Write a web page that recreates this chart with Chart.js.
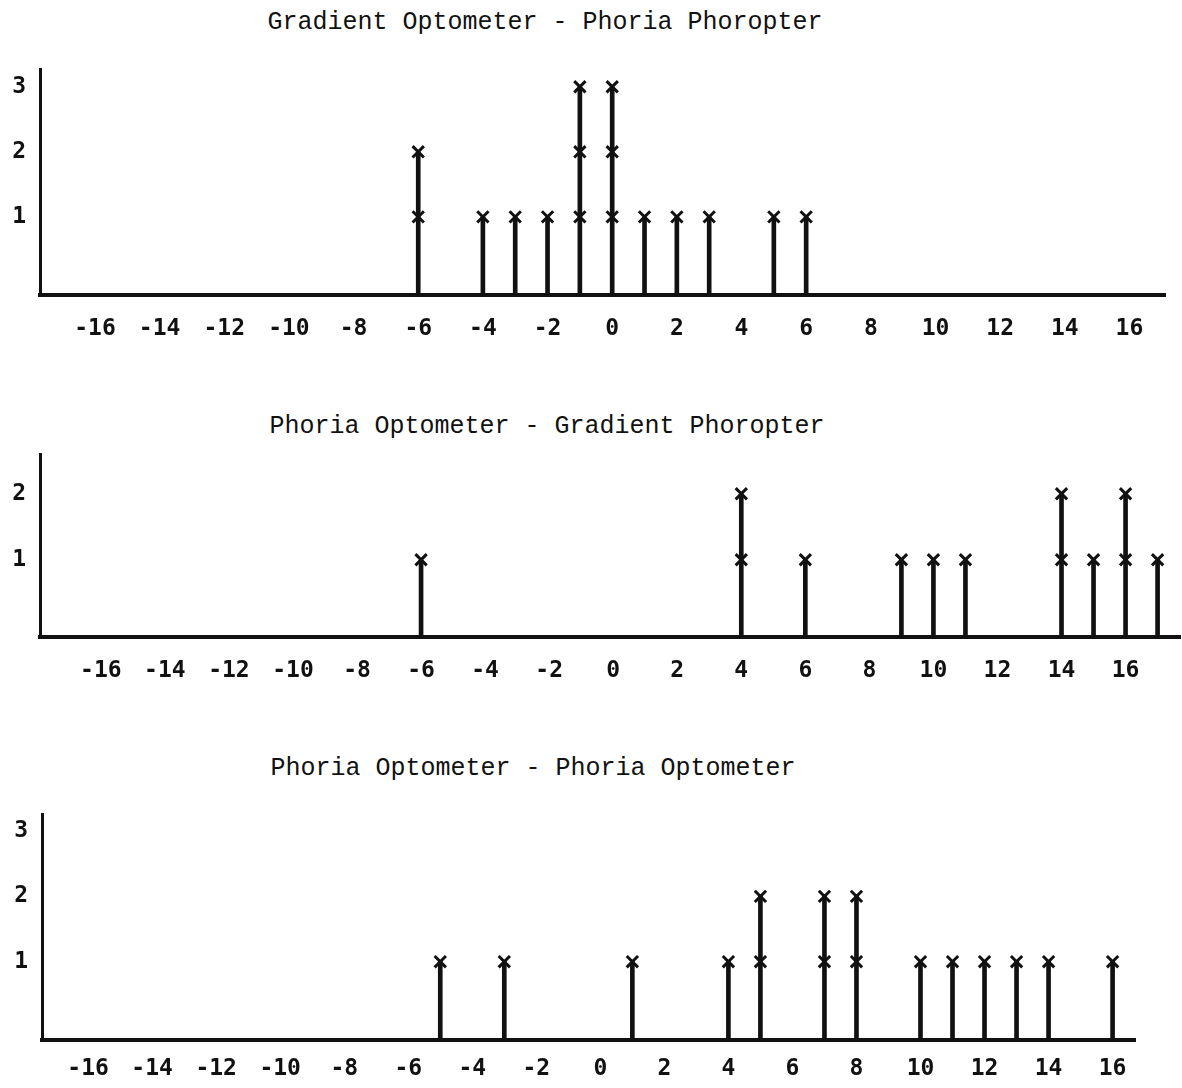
<!DOCTYPE html>
<html>
<head>
<meta charset="utf-8">
<script src="https://cdn.jsdelivr.net/npm/chart.js@4.4.1/dist/chart.umd.min.js"></script>
<style>
  body { margin: 0; background: #fff; width: 1182px; height: 1088px; position: relative; overflow: hidden; }
  canvas { position: absolute; left: 0; }
  .title { position: absolute; font-family: "Liberation Mono", "DejaVu Sans Mono", monospace; font-size: 25px; color: #111; white-space: nowrap; transform: translate(-50%, -50%); }
</style>
</head>
<body>
<div class="title" style="left:545px; top:22px;">Gradient Optometer - Phoria Phoropter</div>
<div class="title" style="left:547px; top:426px;">Phoria Optometer - Gradient Phoropter</div>
<div class="title" style="left:533px; top:768px;">Phoria Optometer - Phoria Optometer</div>
<canvas id="panel1" width="1182" height="318" style="top:42px"></canvas>
<canvas id="panel2" width="1182" height="273" style="top:427px"></canvas>
<canvas id="panel3" width="1182" height="301" style="top:787px"></canvas>
<script>
// tick labels
const xTicks = [-16, -14, -12, -10, -8, -6, -4, -2, 0, 2, 4, 6, 8, 10, 12, 14, 16];
const yTicks3 = [1, 2, 3];
const yTicks2 = [1, 2];

// Gradient Optometer - Phoria Phoropter
const gpDiffs = [-6, -4, -3, -2, -1, 0, 1, 2, 3, 5, 6];
const gpCounts = [2, 1, 1, 1, 3, 3, 1, 1, 1, 1, 1];

// Phoria Optometer - Gradient Phoropter
const pgDiffs = [-6, 4, 6, 9, 10, 11, 14, 15, 16, 17];
const pgCounts = [1, 2, 1, 1, 1, 1, 2, 1, 2, 1];

// Phoria Optometer - Phoria Optometer
const ppDiffs = [-5, -3, 1, 4, 5, 7, 8, 10, 11, 12, 13, 14, 16];
const ppCounts = [1, 1, 1, 1, 2, 2, 2, 1, 1, 1, 1, 1, 1];

const tickFont = { family: '"DejaVu Sans Mono", monospace', size: 23, weight: 'bold' };

function makePanel(id, diffs, counts, yTicks, cfg) {
    const stems = diffs.map((d, i) => ({ x: d, y: counts[i] }));
    const marks = [];
    diffs.forEach((d, i) => {
        for (let k = 1; k <= counts[i]; k++) marks.push({ x: d, y: k });
    });

    new Chart(document.getElementById(id), {
        type: 'bar',
        data: {
            datasets: [{
                type: 'scatter',
                data: marks,
                pointStyle: 'crossRot',
                pointRadius: 8,
                pointBorderWidth: 3,
                borderColor: '#111',
                backgroundColor: '#111',
                showLine: false
            }, {
                type: 'bar',
                data: stems,
                base: cfg.yMin,
                barThickness: 4,
                backgroundColor: '#111',
                borderWidth: 0
            }]
        },
        options: {
            responsive: false,
            animation: false,
            layout: { autoPadding: false, padding: { top: 0, right: cfg.padRight, left: 0, bottom: 0 } },
            plugins: { legend: { display: false }, tooltip: { enabled: false } },
            scales: {
                x: {
                    type: 'linear',
                    offset: false,
                    min: cfg.xMin,
                    max: cfg.xMax,
                    afterBuildTicks: s => { s.ticks = xTicks.map(v => ({ value: v })); },
                    afterFit: s => { s.height = cfg.xHeight; },
                    grid: { display: false, drawTicks: false },
                    border: { display: true, color: '#111', width: 4 },
                    ticks: { color: '#111', font: tickFont, padding: cfg.xPad, maxRotation: 0, autoSkip: false }
                },
                y: {
                    type: 'linear',
                    min: cfg.yMin,
                    max: cfg.yMax,
                    afterBuildTicks: s => { s.ticks = yTicks.map(v => ({ value: v })); },
                    afterFit: s => { s.width = cfg.yWidth; },
                    grid: { display: false, drawTicks: false },
                    border: { display: true, color: '#111', width: 3 },
                    ticks: { color: '#111', font: tickFont, padding: 14 }
                }
            }
        }
    });
}

makePanel('panel1', gpDiffs, gpCounts, yTicks3, {
    xMin: -17.7, xMax: 17.1, yMin: -0.2, yMax: 3.26,
    padRight: 17, xHeight: 65, yWidth: 40, xPad: 20
});
makePanel('panel2', pgDiffs, pgCounts, yTicks2, {
    xMin: -17.9, xMax: 17.7, yMin: -0.17, yMax: 2.59,
    padRight: 2, xHeight: 63, yWidth: 40, xPad: 20
});
makePanel('panel3', ppDiffs, ppCounts, yTicks3, {
    xMin: -17.44, xMax: 16.7, yMin: -0.2, yMax: 3.25,
    padRight: 47, xHeight: 48, yWidth: 42, xPad: 15
});
</script>
</body>
</html>
